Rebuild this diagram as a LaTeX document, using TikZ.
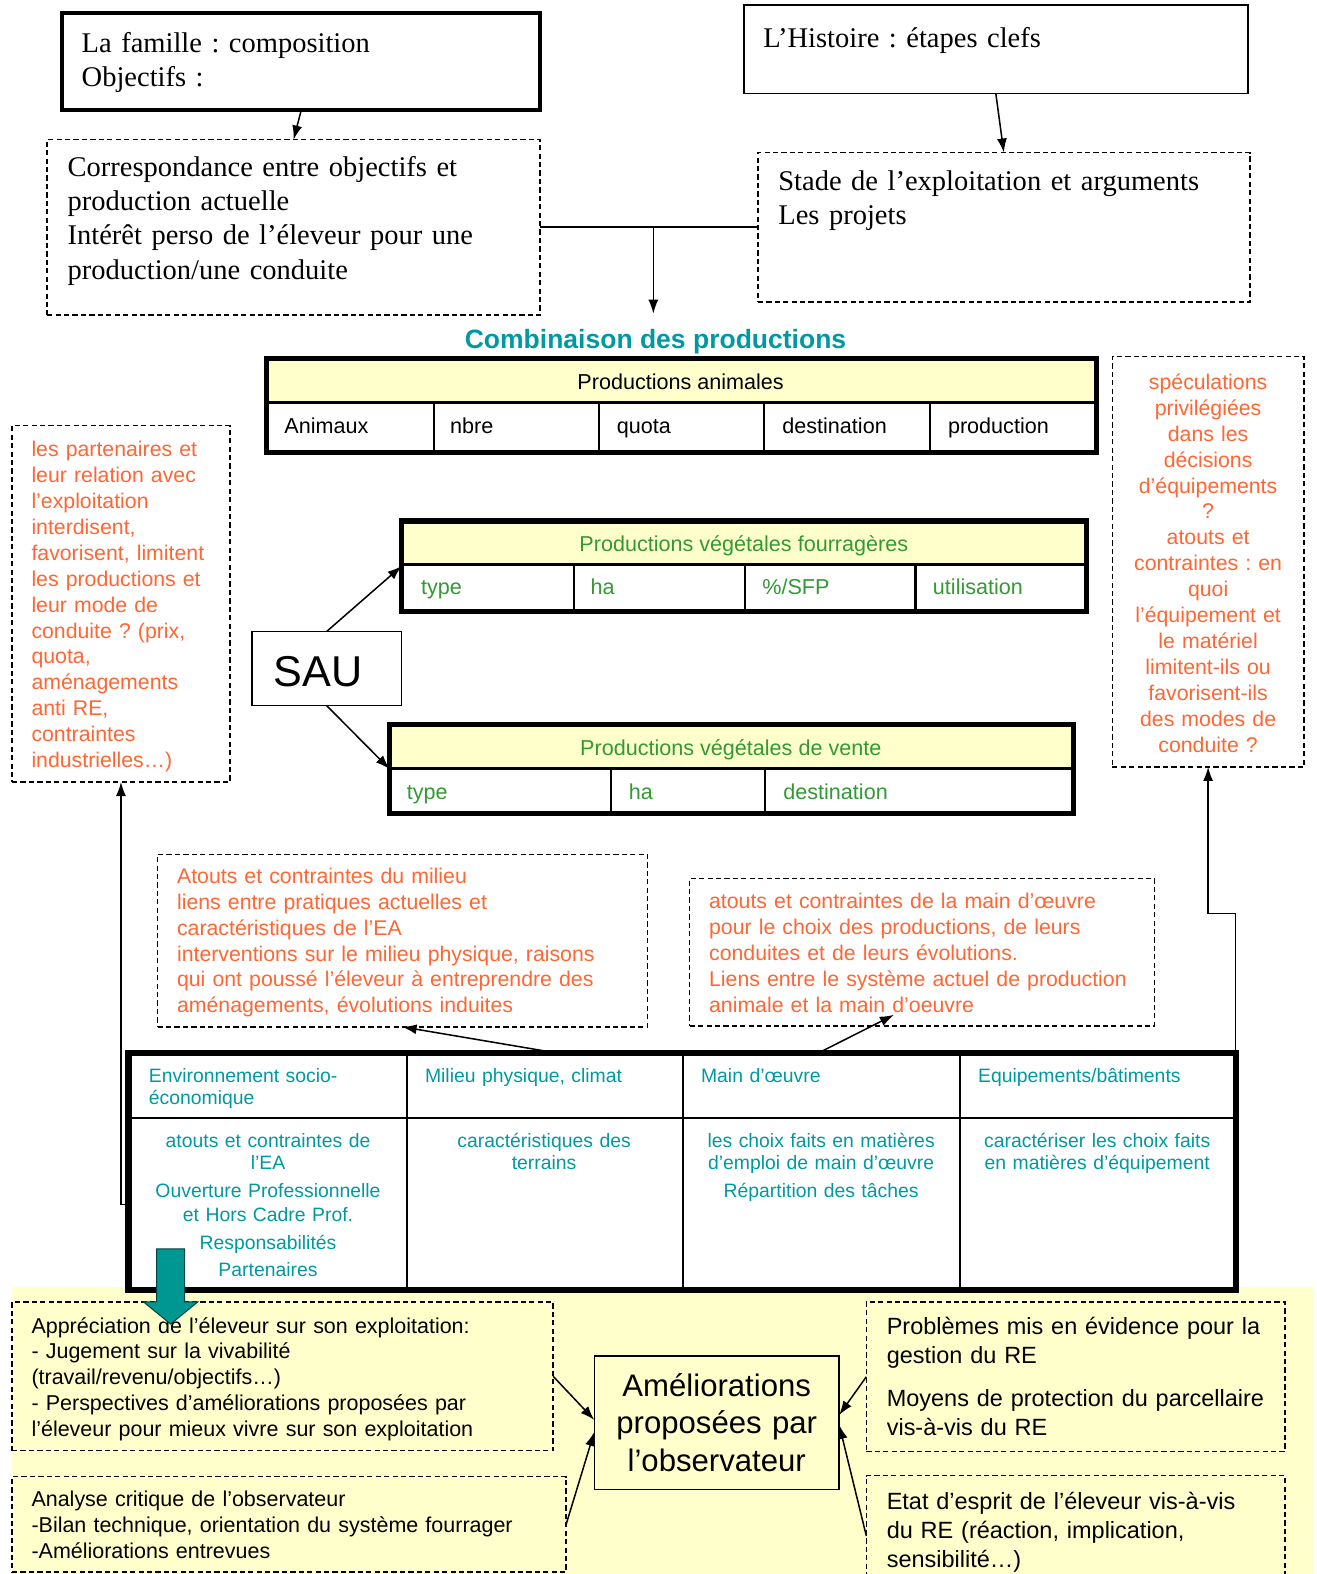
\documentclass[tikz,border=0pt]{standalone}
\usepackage{fontspec}
\setmainfont{Liberation Sans}
\newfontfamily\serf{Liberation Serif}
\usetikzlibrary{arrows.meta,calc}
\definecolor{orng}{RGB}{255,102,51}
\definecolor{tealt}{RGB}{0,153,160}
\definecolor{grn}{RGB}{51,153,51}
\definecolor{hdr}{RGB}{255,255,204}
\definecolor{tarrow}{RGB}{0,150,145}
\frenchspacing
\begin{document}
\begin{tikzpicture}[x=0.5pt,y=-0.5pt,>={Latex[length=7pt,width=5pt]},
  box/.style={draw, line width=0.75pt, anchor=north west, inner sep=0pt, outer sep=0pt},
  dbox/.style={box, dash pattern=on 2.6pt off 1.6pt},
  serftxt/.style={anchor=base west, inner sep=0pt, font=\serf\fontsize{14.2}{17}\selectfont, text width=240pt, align=left},
  ortxt/.style={anchor=base west, inner sep=0pt, text=orng, font=\fontsize{10.6}{12.9}\selectfont, align=left},
  blktxt/.style={anchor=base west, inner sep=0pt, font=\fontsize{10.7}{12.9}\selectfont, align=left},
  celltxt/.style={anchor=base west, inner sep=0pt, font=\fontsize{10.75}{13}\selectfont},
  tltxt/.style={inner sep=0pt, text=tealt, font=\fontsize{9.65}{11.25}\selectfont, text width=130pt},
  conn/.style={line width=0.75pt, ->}]
\useasboundingbox (0,0) rectangle (1311,1568);
% bottom yellow background
\fill[hdr] (12,1282) rectangle (1308,1568);

% top boxes
\node[box, line width=2pt, minimum width=238pt, minimum height=48.5pt] (fam) at (62,13) {};
\node[serftxt] (famT) at (81,52) {La famille : composition\\Objectifs :};
\node[box, minimum width=251pt, minimum height=44pt] (hist) at (741,5) {};
\node[serftxt] (histT) at (760,47) {L’Histoire : étapes clefs};
\node[dbox, minimum width=245.5pt, minimum height=87.5pt] (corr) at (47,139) {};
\node[serftxt] (corrT) at (67,176) {Correspondance entre objectifs et\\production actuelle\\Intérêt perso de l’éleveur pour une\\production/une conduite};
\node[dbox, minimum width=245pt, minimum height=74.5pt] (stade) at (755,152) {};
\node[serftxt] (stadeT) at (775,190) {Stade de l’exploitation et arguments\\Les projets};

\draw[conn] (fam.south) -- (corr.north);
\draw[conn] (hist.south) -- (stade.north);
\draw[line width=0.9pt] (corr.east) -- coordinate[pos=0.52] (jn) (stade.west);
\draw[conn] (jn) -- ++(0,86);

\node[anchor=base, text=tealt, font=\bfseries\fontsize{13.2}{15}\selectfont, inner sep=0pt] (comb) at (653,347) {Combinaison des productions};

% table animal
\fill[hdr] (265,357) rectangle (1092,401);
\draw[line width=1.5pt] (265,401) -- (1092,401);
\foreach \x in {432,597,761,926} \draw[line width=1pt] (\x,401) -- (\x,451);
\node[box, line width=2.5pt, minimum width=413.5pt, minimum height=47pt] (tabA) at (265,357) {};
\node[celltxt, anchor=base] (tabAh) at (678,388) {Productions animales};
\node[celltxt] (a1) at (283,432) {Animaux};
\node[celltxt] (a2) at (448,432) {nbre};
\node[celltxt] (a3) at (614,432) {quota};
\node[celltxt] (a4) at (779,432) {destination};
\node[celltxt] (a5) at (944,432) {production};

% table fourrageres
\fill[hdr] (400,519) rectangle (1082,562);
\draw[line width=1.5pt] (400,562) -- (1082,562);
\foreach \x in {572,742,912} \draw[line width=1pt] (\x,562) -- (\x,609);
\node[box, line width=2.5pt, minimum width=341pt, minimum height=45pt] (tabF) at (400,519) {};
\node[celltxt, anchor=base, text=grn] (tabFh) at (741,549) {Productions végétales fourragères};
\node[celltxt, text=grn] (f1) at (419,592) {type};
\node[celltxt, text=grn] (f2) at (588,592) {ha};
\node[celltxt, text=grn] (f3) at (759,592) {\%/SFP};
\node[celltxt, text=grn] (f4) at (929,592) {utilisation};

% table vente
\fill[hdr] (388,722) rectangle (1069,766);
\draw[line width=1.5pt] (388,766) -- (1069,766);
\foreach \x in {609,762} \draw[line width=1pt] (\x,766) -- (\x,810);
\node[box, line width=2.5pt, minimum width=340.5pt, minimum height=44pt] (tabV) at (388,722) {};
\node[celltxt, anchor=base, text=grn] (tabVh) at (728,753) {Productions végétales de vente};
\node[celltxt, text=grn] (v1) at (405,796) {type};
\node[celltxt, text=grn] (v2) at (626,796) {ha};
\node[celltxt, text=grn] (v3) at (780,796) {destination};

% SAU
\node[box, minimum width=74.5pt, minimum height=37pt] (sau) at (251,629) {};
\node[anchor=base west, font=\fontsize{21.5}{24}\selectfont, inner sep=0pt] (sauT) at (272,684) {SAU};
\draw[conn] (sau.north) -- (tabF.west);
\draw[conn] (sau.south) -- (tabV.west);

% left orange
\node[dbox, minimum width=108.5pt, minimum height=177.5pt] (part) at (12,424) {};
\node[ortxt, text width=100pt] (partT) at (31,455) {les partenaires et\\leur relation avec\\l’exploitation\\interdisent,\\favorisent, limitent\\les productions et\\leur mode de\\conduite ? (prix,\\quota,\\aménagements\\anti RE,\\contraintes\\industrielles…)};

% right orange
\node[dbox, minimum width=95.5pt, minimum height=204.5pt] (spec) at (1108,355) {};
\node[ortxt, anchor=base, align=center, text width=95pt] (specT) at (1203.5,388) {spéculations\\privilégiées\\dans les\\décisions\\d’équipements\\?\\atouts et\\contraintes : en\\quoi\\l’équipement et\\le matériel\\limitent-ils ou\\favorisent-ils\\des modes de\\conduite ?};

% milieu
\node[dbox, minimum width=244pt, minimum height=86pt] (mil) at (157,851) {};
\node[ortxt, text width=235pt] (milT) at (176,880) {Atouts et contraintes du milieu\\liens entre pratiques actuelles et\\caractéristiques de l’EA\\interventions sur le milieu physique, raisons\\qui ont poussé l’éleveur à entreprendre des\\aménagements, évolutions induites};

% main d'oeuvre
\node[dbox, minimum width=231.5pt, minimum height=73.5pt] (mo) at (687,875) {};
\node[ortxt, text width=225pt] (moT) at (706,905) {atouts et contraintes de la main d’œuvre\\pour le choix des productions, de leurs\\conduites et de leurs évolutions.\\Liens entre le système actuel de production\\animale et la main d’oeuvre};

% big table
\draw[line width=1pt] (128,1114) -- (1231,1114);
\foreach \x in {405,680,956} \draw[line width=1pt] (\x,1049) -- (\x,1285);
\node[box, line width=3pt, minimum width=551.5pt, minimum height=118pt] (tabB) at (128,1049) {};
\node[tltxt, anchor=base west, align=left] (b1) at (148,1078) {Environnement socio-\\économique};
\node[tltxt, anchor=base west, align=left] (b2) at (423,1078) {Milieu physique, climat};
\node[tltxt, anchor=base west, align=left] (b3) at (698,1078) {Main d’œuvre};
\node[tltxt, anchor=base west, align=left] (b4) at (974,1078) {Equipements/bâtiments};
\node[tltxt, anchor=base, align=center] (c1) at (267,1143) {atouts et contraintes de\\l’EA\\[2.25pt]Ouverture Professionnelle\\[0.75pt]et Hors Cadre Prof.\\[2.75pt]Responsabilités\\[2.25pt]Partenaires};
\node[tltxt, anchor=base, align=center] (c2) at (542,1143) {caractéristiques des\\terrains};
\node[tltxt, anchor=base, align=center] (c3) at (818,1143) {les choix faits en matières\\d’emploi de main d’œuvre\\[2.25pt]Répartition des tâches};
\node[tltxt, anchor=base, align=center] (c4) at (1093,1143) {caractériser les choix faits\\en matières d’équipement};

\draw[conn] ($(tabB.north west)!0.387!(tabB.north east)$) -- (mil.south);
\draw[conn] ($(tabB.north west)!0.623!(tabB.north east)$) -- ($(mo.south)+(-28,-11)$);
\draw[conn] (tabB.north east) -- ++(0,-139) -| (spec.south);
\draw[conn] ($(tabB.north west)+(0,151)$) -| (part.south);

% bottom boxes
\node[dbox, minimum width=269.5pt, minimum height=74pt] (appr) at (12,1297) {};
\node[blktxt, text width=260pt] (apprT) at (31,1328) {Appréciation de l’éleveur sur son exploitation:\\- Jugement sur la vivabilité\\(travail/revenu/objectifs…)\\- Perspectives d’améliorations proposées par\\l’éleveur pour mieux vivre sur son exploitation};
\node[dbox, minimum width=276pt, minimum height=47.5pt] (anal) at (12,1471) {};
\node[blktxt, text width=270pt, font=\fontsize{10.7}{13}\selectfont] (analT) at (31,1501) {Analyse critique de l’observateur\\-Bilan technique, orientation du système fourrager\\-Améliorations entrevues};
\node[box, fill=hdr, minimum width=122pt, minimum height=66.5pt] (amel) at (592,1351) {};
\node[anchor=base, align=center, inner sep=0pt, text width=120pt, font=\fontsize{15.5}{18.75}\selectfont] (amelT) at (714,1391) {Améliorations\\proposées par\\l’observateur};
\node[dbox, minimum width=208.5pt, minimum height=74.5pt] (prob) at (863,1297) {};
\node[blktxt, text width=205pt, font=\fontsize{11.7}{14.75}\selectfont] (probT) at (883,1329) {Problèmes mis en évidence pour la\\gestion du RE\\[6.5pt]Moyens de protection du parcellaire\\vis-à-vis du RE};
\node[dbox, minimum width=208.5pt, minimum height=60pt] (etat) at (863,1470) {};
\node[blktxt, text width=205pt, font=\fontsize{11.7}{14.5}\selectfont] (etatT) at (883,1504) {Etat d’esprit de l’éleveur vis-à-vis\\du RE (réaction, implication,\\sensibilité…)};

\draw[conn] (appr.east) -- ($(amel.west)+(0,-3)$);
\draw[conn] (anal.east) -- ($(amel.west)+(0,9)$);
\draw[conn] (prob.west) -- ($(amel.east)+(0,-8)$);
\draw[conn] (etat.west) -- ($(amel.east)+(0,2)$);

% teal block arrow
\filldraw[fill=tarrow, draw=black!55!tarrow, line width=0.5pt] (156,1244) -- (184,1244) -- (184,1297) -- (197,1297) -- (170,1319) -- (143,1297) -- (156,1297) -- cycle;
\end{tikzpicture}
\end{document}
